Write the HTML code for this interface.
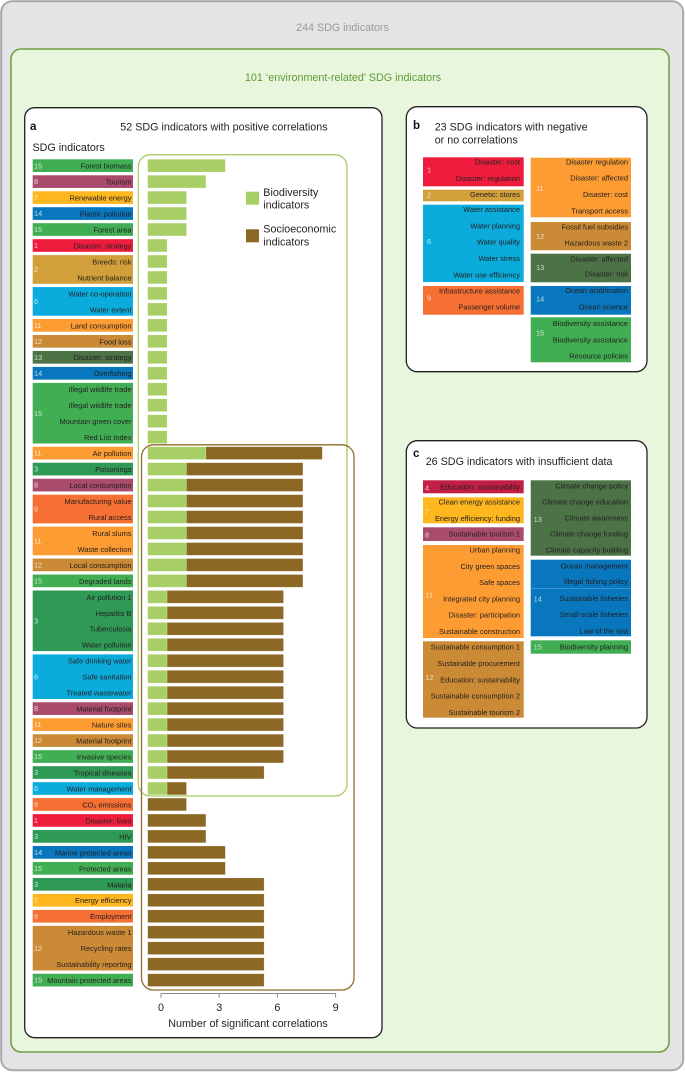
<!DOCTYPE html>
<html lang="en">
<head>
<meta charset="utf-8">
<title>SDG indicators</title>
<style>
html,body{margin:0;padding:0;background:#fff;}
body{width:685px;height:1073px;overflow:hidden;}
svg{display:block;font-family:"Liberation Sans",sans-serif;filter:blur(0.3px);}
.t{font-size:10.75px;fill:#231f20;}
.l{font-size:7.45px;fill:#231f20;text-anchor:end;}
.n{font-size:7.4px;fill:#fff;fill-opacity:.72;}
.h{font-size:11.5px;font-weight:bold;fill:#111;}
</style>
</head>
<body>
<svg id="fig" xmlns="http://www.w3.org/2000/svg" width="685" height="1073" viewBox="0 0 685 1073">
<rect width="685" height="1073" fill="#ffffff"/>
<rect x="1.2" y="1.2" width="682" height="1069" rx="11" fill="#e4e4e6" stroke="#a9a9ab" stroke-width="2"/>
<text x="342.5" y="30.8" text-anchor="middle" font-size="10.7" fill="#9a9a9c">244 SDG indicators</text>
<rect x="11" y="49" width="658" height="1003" rx="10" fill="#e8f6de" stroke="#6f9e3f" stroke-width="1.5"/>
<text x="343" y="81" text-anchor="middle" font-size="10.75" fill="#5f9a36">101 ‘environment-related’ SDG indicators</text>

<g>
<rect x="24.7" y="107.7" width="357.3" height="930" rx="10" fill="#fff" stroke="#231f20" stroke-width="1.3"/>
<text class="h" x="30" y="130">a</text>
<text class="t" x="120.3" y="130.3">52 SDG indicators with positive correlations</text>
<text class="t" x="32.5" y="151">SDG indicators</text>
<rect x="138.3" y="154.7" width="208.7" height="641.3" rx="12" fill="none" stroke="#a6cc6a" stroke-width="1.3"/>
<rect x="141.5" y="444.8" width="212.5" height="545.2" rx="12" fill="none" stroke="#8f6c2c" stroke-width="1.3"/>
<g id="chart-a"></g>
<rect x="246" y="191.7" width="13" height="13" fill="#a8cf65"/>
<text class="t" x="263.3" y="195.8">Biodiversity</text>
<text class="t" x="263.3" y="208.5">indicators</text>
<rect x="246" y="229.3" width="13" height="13" fill="#8c6825"/>
<text class="t" x="263.3" y="232.6">Socioeconomic</text>
<text class="t" x="263.3" y="245.5">indicators</text>
</g>

<g>
<rect x="406.3" y="106.7" width="240.7" height="265" rx="11" fill="#fff" stroke="#231f20" stroke-width="1.3"/>
<text class="h" x="413" y="129">b</text>
<text class="t" x="434.7" y="130.4">23 SDG indicators with negative</text>
<text class="t" x="434.7" y="143.4">or no correlations</text>

<rect x="423" y="157.3" width="100.7" height="29" fill="#ef1d3d"/>
<rect x="423" y="189.7" width="100.7" height="11.6" fill="#d2a03a"/>
<rect x="423" y="204.7" width="100.7" height="77.3" fill="#0bacdc"/>
<rect x="423" y="286" width="100.7" height="28.7" fill="#f66f33"/>
<rect x="530.7" y="157.7" width="100.3" height="59.6" fill="#fc9c32"/>
<rect x="530.7" y="222" width="100.3" height="28.3" fill="#cb8a35"/>
<rect x="530.7" y="253.7" width="100.3" height="28.6" fill="#4b7346"/>
<rect x="530.7" y="286" width="100.3" height="28.7" fill="#0877bd"/>
<rect x="530.7" y="317.3" width="100.3" height="45" fill="#41ae54"/>

<text class="n" x="427" y="172.6">1</text>
<text class="n" x="427" y="197.6">2</text>
<text class="n" x="427" y="244.1">6</text>
<text class="n" x="427" y="300.6">9</text>
<text class="n" x="536" y="191.1">11</text>
<text class="n" x="536" y="239.1">12</text>
<text class="n" x="536" y="270.1">13</text>
<text class="n" x="536" y="301.6">14</text>
<text class="n" x="536" y="335.6">15</text>

<text class="l" x="520" y="164.6">Disaster: cost</text>
<text class="l" x="520" y="180.9">Disaster: regulation</text>
<text class="l" x="520" y="196.9">Genetic: stores</text>
<text class="l" x="520" y="211.9">Water assistance</text>
<text class="l" x="520" y="228.3">Water planning</text>
<text class="l" x="520" y="244.6">Water quality</text>
<text class="l" x="520" y="260.9">Water stress</text>
<text class="l" x="520" y="277.3">Water use efficiency</text>
<text class="l" x="520" y="293.6">Infrastructure assistance</text>
<text class="l" x="520" y="309.6">Passenger volume</text>
<text class="l" x="628" y="164.6">Disaster regulation</text>
<text class="l" x="628" y="180.6">Disaster: affected</text>
<text class="l" x="628" y="196.9">Disaster: cost</text>
<text class="l" x="628" y="213.6">Transport access</text>
<text class="l" x="628" y="229.6">Fossil fuel subsidies</text>
<text class="l" x="628" y="245.3">Hazardous waste 2</text>
<text class="l" x="628" y="261.3">Disaster: affected</text>
<text class="l" x="628" y="276.6">Disaster: risk</text>
<text class="l" x="628" y="292.9">Ocean acidification</text>
<text class="l" x="628" y="309.6">Ocean science</text>
<text class="l" x="628" y="325.9">Biodiversity assistance</text>
<text class="l" x="628" y="342.3">Biodiversity assistance</text>
<text class="l" x="628" y="358.6">Resource policies</text>
</g>

<g>
<rect x="406.3" y="440.7" width="240.7" height="287.3" rx="11" fill="#fff" stroke="#231f20" stroke-width="1.3"/>
<text class="h" x="413" y="457">c</text>
<text class="t" x="425.7" y="465">26 SDG indicators with insufficient data</text>

<rect x="423" y="480.3" width="100.7" height="13" fill="#c31f45"/>
<rect x="423" y="497.3" width="100.7" height="26" fill="#feb71f"/>
<rect x="423" y="527.3" width="100.7" height="13.7" fill="#a94b6c"/>
<rect x="423" y="545" width="100.7" height="93" fill="#fc9c32"/>
<rect x="423" y="641.3" width="100.7" height="76.4" fill="#cb8a35"/>
<rect x="530.7" y="480.3" width="100.3" height="75.4" fill="#4b7346"/>
<rect x="530.7" y="559.7" width="100.3" height="76.6" fill="#0877bd"/>
<rect x="530.7" y="588" width="100.3" height="0.6" fill="#5aa6d8"/>
<rect x="530.7" y="640.3" width="100.3" height="13.4" fill="#41ae54"/>

<text class="n" x="425" y="490.6">4</text>
<text class="n" x="425" y="514.1">7</text>
<text class="n" x="425" y="537.6">8</text>
<text class="n" x="425.3" y="597.6">11</text>
<text class="n" x="425.3" y="680.1">12</text>
<text class="n" x="533.6" y="522.1">13</text>
<text class="n" x="533.6" y="601.6">14</text>
<text class="n" x="533.6" y="649.6">15</text>

<text class="l" x="520" y="489.6">Education: sustainability</text>
<text class="l" x="520" y="504.6">Clean energy assistance</text>
<text class="l" x="520" y="521.1">Energy efficiency: funding</text>
<text class="l" x="520" y="536.6">Sustainable tourism 1</text>
<text class="l" x="520" y="552.6">Urban planning</text>
<text class="l" x="520" y="568.9">City green spaces</text>
<text class="l" x="520" y="584.9">Safe spaces</text>
<text class="l" x="520" y="601.6">Integrated city planning</text>
<text class="l" x="520" y="617.6">Disaster: participation</text>
<text class="l" x="520" y="633.9">Sustainable construction</text>
<text class="l" x="520" y="649.6">Sustainable consumption 1</text>
<text class="l" x="520" y="665.9">Sustainable procurement</text>
<text class="l" x="520" y="682.3">Education: sustainability</text>
<text class="l" x="520" y="698.6">Sustainable consumption 2</text>
<text class="l" x="520" y="714.9">Sustainable tourism 2</text>
<text class="l" x="628" y="488.3">Climate change policy</text>
<text class="l" x="628" y="504.6">Climate change education</text>
<text class="l" x="628" y="520.6">Climate awareness</text>
<text class="l" x="628" y="536.6">Climate change funding</text>
<text class="l" x="628" y="552.3">Climate capacity building</text>
<text class="l" x="628" y="568.3">Ocean management</text>
<text class="l" x="628" y="583.9">Illegal fishing policy</text>
<text class="l" x="628" y="600.9">Sustainable fisheries</text>
<text class="l" x="628" y="616.9">Small-scale fisheries</text>
<text class="l" x="628" y="633.3">Law of the sea</text>
<text class="l" x="628" y="649.3">Biodiversity planning</text>
</g>
</svg>
<script>
const categories = ["Forest biomass","Tourism","Renewable energy","Plastic pollution","Forest area","Disaster: strategy","Breeds: risk","Nutrient balance","Water co-operation","Water extent","Land consumption","Food loss","Disaster: strategy","Overfishing","Illegal wildlife trade","Illegal wildlife trade","Mountain green cover","Red List Index","Air pollution","Poisonings","Local consumption","Manufacturing value","Rural access","Rural slums","Waste collection","Local consumption","Degraded lands","Air pollution 1","Hepatitis B","Tuberculosis","Water pollution","Safe drinking water","Safe sanitation","Treated wastewater","Material footprint","Nature sites","Material footprint","Invasive species","Tropical diseases","Water management","CO₂ emissions","Disaster: lives","HIV","Marine protected areas","Protected areas","Malaria","Energy efficiency","Employment","Hazardous waste 1","Recycling rates","Sustainability reporting","Mountain protected areas"];
const goals = [15,8,7,14,15,1,2,2,6,6,11,12,13,14,15,15,15,15,11,3,8,9,9,11,11,12,15,3,3,3,3,6,6,6,8,11,12,15,3,6,9,1,3,14,15,3,7,9,12,12,12,15];
const biodiversity = [4,3,2,2,2,1,1,1,1,1,1,1,1,1,1,1,1,1,3,2,2,2,2,2,2,2,2,1,1,1,1,1,1,1,1,1,1,1,1,1,0,0,0,0,0,0,0,0,0,0,0,0];
const socioeconomic = [0,0,0,0,0,0,0,0,0,0,0,0,0,0,0,0,0,0,6,6,6,6,6,6,6,6,6,6,6,6,6,6,6,6,6,6,6,6,5,1,2,3,3,4,4,6,6,6,6,6,6,6];
const axisTicks = [0,3,6,9];
const goalColors = {1:"#ef1d3d",2:"#d2a03a",3:"#2f9a55",6:"#0bacdc",7:"#feb71f",8:"#a94b6c",9:"#f66f33",11:"#fc9c32",12:"#cb8a35",13:"#4b7346",14:"#0877bd",15:"#41ae54"};

const NS = "http://www.w3.org/2000/svg";
const chart = document.getElementById("chart-a");
const unit = 19.4;
const barX = v => 147.7 + unit * v;
const tickX = v => 161 + unit * v;
const rowTop = i => 159.3 + 15.97 * i;
const rowH = 12.7;
function mk(tag, attrs, text) {
  const node = document.createElementNS(NS, tag);
  for (const k in attrs) node.setAttribute(k, attrs[k]);
  if (text !== undefined) node.textContent = text;
  chart.appendChild(node);
  return node;
}

let start = 0;
for (let i = 1; i <= goals.length; i++) {
  if (i < goals.length && goals[i] === goals[start]) continue;
  const top = rowTop(start);
  const bottom = rowTop(i - 1) + rowH;
  const block = mk("rect", {x: 32.7, y: top, width: 100.3, height: bottom - top, fill: goalColors[goals[start]]});
  
  
  const num = mk("text", {"class": "n", x: 34, y: (top + bottom) / 2 + 2.6}, String(goals[start]));
  
  
  start = i;
}

categories.forEach((name, i) => {
  const label = mk("text", {"class": "l", x: 131.5, y: rowTop(i) + 9.3}, name);
  
  
  const b = biodiversity[i];
  const s = socioeconomic[i];
  if (b > 0) {
    const bioBar = mk("rect", {x: barX(0), y: rowTop(i), width: barX(b) - barX(0), height: rowH, fill: "#a8cf65", stroke: "#fff", "stroke-opacity": .3, "stroke-width": .6});
    
    
  }
  if (s > 0) {
    const socioBar = mk("rect", {x: barX(b), y: rowTop(i), width: barX(b + s) - barX(b), height: rowH, fill: "#8c6825", stroke: "#fff", "stroke-opacity": .3, "stroke-width": .6});
    
    
  }
});

const axisLine = mk("line", {x1: tickX(axisTicks[0]), x2: tickX(axisTicks[axisTicks.length - 1]), y1: 993.5, y2: 993.5, stroke: "#8a8a8a", "stroke-width": 1});


axisTicks.forEach(v => {
  const tick = mk("line", {x1: tickX(v), x2: tickX(v), y1: 993.5, y2: 997.5, stroke: "#8a8a8a", "stroke-width": 1});
  
  
  const tickLabel = mk("text", {"class": "t", x: tickX(v), y: 1011, "text-anchor": "middle"}, String(v));
  
  
});
const axisTitle = mk("text", {"class": "t", x: 248, y: 1027, "text-anchor": "middle"}, "Number of significant correlations");


</script>
</body>
</html>
